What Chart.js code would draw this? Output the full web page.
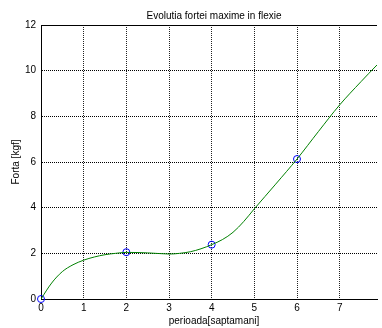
<!DOCTYPE html>
<html>
<head>
<meta charset="utf-8">
<script src="https://cdn.jsdelivr.net/npm/chart.js@4/dist/chart.umd.min.js"></script>
<style>
html,body{margin:0;padding:0;background:#fff;overflow:hidden;}
#wrap{width:382px;height:328px;position:relative;}
</style>
</head>
<body>
<div id="wrap"><canvas id="c" width="382" height="328"></canvas></div>
<script>
// Data
const curveX = [0, 0.25, 0.5, 0.75, 1, 1.25, 1.5, 1.75, 2, 2.5, 3, 3.25, 3.5, 3.75, 4, 4.25, 4.5, 4.75, 5, 5.5, 6, 6.5, 7, 7.5, 7.875];
const curveForce = [0, 0.7, 1.2, 1.5, 1.7, 1.84, 1.94, 2.0, 2.04, 2.02, 1.97, 2.0, 2.07, 2.2, 2.38, 2.6, 2.92, 3.39, 3.95, 5.03, 6.13, 7.33, 8.5, 9.52, 10.25];
const markerX = [0, 2, 4, 6];
const markerForce = [0, 2.05, 2.38, 6.13];
const xTicks = [0, 1, 2, 3, 4, 5, 6, 7];
const yTicks = [0, 2, 4, 6, 8, 10, 12];
const titleText = 'Evolutia fortei maxime in flexie';
const xLabel = 'perioada[saptamani]';
const yLabel = 'Forta [kgf]';

const FONT = 'Liberation Sans, Arial, Helvetica, sans-serif';

const textPlugin = {
  id: 'texts',
  afterDraw(chart) {
    const ctx = chart.ctx;
    const a = chart.chartArea;
    ctx.save();
    ctx.strokeStyle = '#000';
    ctx.lineWidth = 1;
    ctx.beginPath();
    ctx.moveTo(a.left, Math.round(a.top) + 0.5);
    ctx.lineTo(a.right, Math.round(a.top) + 0.5);
    ctx.stroke();
    ctx.fillStyle = '#000';
    ctx.font = '10px ' + FONT;
    ctx.textAlign = 'center';
    ctx.textBaseline = 'alphabetic';
    ctx.fillText(titleText, 214, 18.5);
    ctx.fillText(xLabel, 214, 324);
    ctx.translate(18.5, 162);
    ctx.rotate(-Math.PI / 2);
    ctx.fillText(yLabel, 0, 0);
    ctx.restore();
  }
};

new Chart(document.getElementById('c'), {
  type: 'scatter',
  data: {
    datasets: [
      {
        data: curveX.map((x, i) => ({x: x, y: curveForce[i]})),
        showLine: true,
        borderColor: '#008000',
        borderWidth: 1,
        pointRadius: 0,
        tension: 0.35,
        fill: false
      },
      {
        data: markerX.map((x, i) => ({x: x, y: markerForce[i]})),
        showLine: false,
        pointRadius: 3.5,
        pointBorderColor: '#0000ff',
        pointBackgroundColor: 'rgba(0,0,0,0)',
        pointBorderWidth: 1,
        clip: false
      }
    ]
  },
  options: {
    responsive: false,
    animation: false,
    devicePixelRatio: 1,
    layout: {padding: {top: 25, right: 0, left: 0, bottom: 0}},
    plugins: {legend: {display: false}, tooltip: {enabled: false}, title: {display: false}},
    scales: {
      x: {
        type: 'linear',
        min: 0,
        max: 7.875,
        afterFit(s) { s.height = 29; },
        afterBuildTicks(s) { s.ticks = xTicks.map(v => ({value: v})); },
        ticks: {
          includeBounds: false,
          stepSize: 1,
          padding: 3,
          color: '#000',
          font: {family: FONT, size: 10},
          maxRotation: 0,
          autoSkip: false
        },
        grid: {color: '#222', drawTicks: false, lineWidth: 1},
        border: {display: true, color: '#000', width: 1, dash: [1, 1]}
      },
      y: {
        type: 'linear',
        min: 0,
        max: 12,
        afterFit(s) { s.width = 41; },
        afterBuildTicks(s) { s.ticks = yTicks.map(v => ({value: v})); },
        ticks: {
          padding: 5,
          color: '#000',
          font: {family: FONT, size: 10},
          autoSkip: false
        },
        grid: {color: '#000', drawTicks: false, lineWidth: 1},
        border: {display: true, color: '#000', width: 1, dash: [1, 1]}
      }
    }
  },
  plugins: [textPlugin]
});
</script>
</body>
</html>
